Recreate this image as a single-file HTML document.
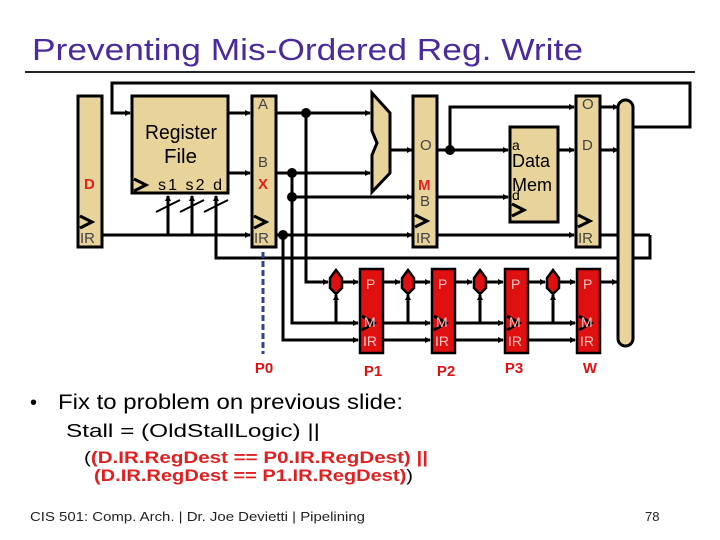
<!DOCTYPE html>
<html><head><style>
body{margin:0;background:#fff}
svg{display:block}
text{font-family:"Liberation Sans",sans-serif}
</style></head><body>
<svg width="720" height="540" viewBox="0 0 720 540" xmlns="http://www.w3.org/2000/svg">
<defs>
<marker id="ar" markerWidth="6" markerHeight="6" refX="5" refY="3" orient="auto" markerUnits="userSpaceOnUse"><path d="M0,0 L6,3 L0,6z" fill="#000"/></marker>
</defs>
<text x="32" y="60" font-size="31" fill="#4a2a9c" textLength="551" lengthAdjust="spacingAndGlyphs">Preventing Mis-Ordered Reg. Write</text>
<line x1="25" y1="72" x2="695" y2="72" stroke="#222" stroke-width="2"/>

<g stroke="#000" stroke-width="3" fill="none">
<polyline points="632,127 690,127 690,83 112,83 112,113 130,113" marker-end="url(#ar)"/>
<line x1="102" y1="235" x2="250" y2="235" marker-end="url(#ar)"/>
<line x1="168" y1="235" x2="168" y2="196" marker-end="url(#ar)"/>
<line x1="192" y1="235" x2="192" y2="196" marker-end="url(#ar)"/>
<polyline points="650,235 650,258 216,258 216,196" marker-end="url(#ar)"/>
<line x1="228" y1="113" x2="250" y2="113" marker-end="url(#ar)"/>
<line x1="228" y1="173" x2="250" y2="173" marker-end="url(#ar)"/>
<line x1="276" y1="113" x2="370" y2="113" marker-end="url(#ar)"/>
<line x1="276" y1="173" x2="370" y2="173" marker-end="url(#ar)"/>
<line x1="292" y1="197" x2="412" y2="197" marker-end="url(#ar)"/>
<line x1="276" y1="235" x2="412" y2="235" marker-end="url(#ar)"/>
<line x1="390" y1="150" x2="412" y2="150" marker-end="url(#ar)"/>
<line x1="437" y1="150" x2="508" y2="150" marker-end="url(#ar)"/>
<polyline points="450,150 450,107 574,107" marker-end="url(#ar)"/>
<line x1="437" y1="197" x2="508" y2="197" marker-end="url(#ar)"/>
<line x1="437" y1="235" x2="574" y2="235" marker-end="url(#ar)"/>
<line x1="558" y1="150" x2="574" y2="150" marker-end="url(#ar)"/>
<line x1="600" y1="107" x2="618" y2="107" marker-end="url(#ar)"/>
<line x1="600" y1="150" x2="618" y2="150" marker-end="url(#ar)"/>
<line x1="600" y1="235" x2="650" y2="235"/>
<polyline points="306,113 306,282 328,282" marker-end="url(#ar)"/>
<polyline points="292,173 292,323 358,323" marker-end="url(#ar)"/>
<polyline points="283,235 283,340 358,340" marker-end="url(#ar)"/>
<line x1="343" y1="282" x2="358" y2="282" marker-end="url(#ar)"/>
<line x1="383" y1="282" x2="400" y2="282" marker-end="url(#ar)"/>
<line x1="415" y1="282" x2="430" y2="282" marker-end="url(#ar)"/>
<line x1="455" y1="282" x2="472" y2="282" marker-end="url(#ar)"/>
<line x1="487" y1="282" x2="503" y2="282" marker-end="url(#ar)"/>
<line x1="528" y1="282" x2="545" y2="282" marker-end="url(#ar)"/>
<line x1="560" y1="282" x2="575" y2="282" marker-end="url(#ar)"/>
<line x1="600" y1="282" x2="617" y2="282" marker-end="url(#ar)"/>
<line x1="383" y1="323" x2="430" y2="323" marker-end="url(#ar)"/>
<line x1="455" y1="323" x2="503" y2="323" marker-end="url(#ar)"/>
<line x1="528" y1="323" x2="575" y2="323" marker-end="url(#ar)"/>
<line x1="383" y1="340" x2="430" y2="340" marker-end="url(#ar)"/>
<line x1="455" y1="340" x2="503" y2="340" marker-end="url(#ar)"/>
<line x1="528" y1="340" x2="575" y2="340" marker-end="url(#ar)"/>
<line x1="336" y1="323" x2="336" y2="295" marker-end="url(#ar)"/>
<line x1="408" y1="323" x2="408" y2="295" marker-end="url(#ar)"/>
<line x1="480" y1="323" x2="480" y2="295" marker-end="url(#ar)"/>
<line x1="553" y1="323" x2="553" y2="295" marker-end="url(#ar)"/>
</g>
<g stroke="#000" stroke-width="2">
<line x1="156" y1="212" x2="180" y2="200"/><line x1="180" y1="212" x2="204" y2="200"/><line x1="204" y1="212" x2="228" y2="200"/>
</g>
<g fill="#000">
<circle cx="306" cy="113" r="5"/><circle cx="292" cy="173" r="5"/><circle cx="292" cy="197" r="5"/><circle cx="283" cy="235" r="5"/><circle cx="450" cy="150" r="5"/>
</g>
<g fill="#e8d39a" stroke="#000" stroke-width="3">
<rect x="78" y="96" width="24" height="151"/>
<rect x="132" y="96" width="96" height="97"/>
<rect x="252" y="96" width="24" height="151"/>
<rect x="413" y="96" width="24" height="151"/>
<rect x="510" y="127" width="48" height="95"/>
<rect x="576" y="96" width="24" height="151"/>
<polygon points="372,93 390,113 390,173 372,192 372,155 377,143 372,131"/>
<rect x="618" y="100" width="15" height="246" rx="7.5"/>
</g>
<g fill="none" stroke="#000" stroke-width="3">
<polyline points="80,216 92,222 80,228"/><polyline points="254,216 266,222 254,228"/><polyline points="415,215 427,221 415,227"/><polyline points="578,215 590,221 578,227"/><polyline points="512,204 524,210 512,216"/><polyline points="134,179 146,185 134,191"/>
</g>
<g font-size="15" fill="#444">
<text x="258" y="109">A</text><text x="258" y="167">B</text><text x="254" y="243">IR</text>
<text x="80" y="243">IR</text>
<text x="420" y="150">O</text><text x="420" y="206">B</text><text x="416" y="243">IR</text>
<text x="582" y="109">O</text><text x="582" y="150">D</text><text x="578" y="243">IR</text>
</g>
<g font-size="15" fill="#e02020" font-weight="bold">
<text x="84" y="189">D</text><text x="258" y="189">X</text><text x="418" y="190">M</text>
</g>
<text x="145" y="139" font-size="20" textLength="72" lengthAdjust="spacingAndGlyphs">Register</text>
<text x="164" y="163" font-size="20" textLength="33" lengthAdjust="spacingAndGlyphs">File</text>
<text x="158" y="190" font-size="16" textLength="64" lengthAdjust="spacing">s1 s2  d</text>
<text x="512" y="150" font-size="14">a</text>
<text x="512" y="167" font-size="18">Data</text>
<text x="512" y="191" font-size="18">Mem</text>
<text x="512" y="200" font-size="14">d</text>

<line x1="263" y1="252" x2="263" y2="354" stroke="#33408a" stroke-width="3" stroke-dasharray="6,3"/>
<g fill="#e01010" stroke="#000" stroke-width="2.5">
<rect x="360" y="269" width="23" height="84"/><rect x="432" y="269" width="23" height="84"/><rect x="505" y="269" width="23" height="84"/><rect x="577" y="269" width="23" height="84"/>
<path d="M336,270 L342,278 L342,288 L336,294 L330,288 L330,278z"/><path d="M408,270 L414,278 L414,288 L408,294 L402,288 L402,278z"/><path d="M480,270 L486,278 L486,288 L480,294 L474,288 L474,278z"/><path d="M553,270 L559,278 L559,288 L553,294 L547,288 L547,278z"/>
</g>
<g fill="none" stroke="#000" stroke-width="3">
<polyline points="362,316 374,323 362,330"/><polyline points="434,316 446,323 434,330"/><polyline points="507,316 519,323 507,330"/><polyline points="579,316 591,323 579,330"/>
</g>
<g font-size="14" fill="#f4c4c4">
<text x="366" y="289">P</text><text x="438" y="289">P</text><text x="511" y="289">P</text><text x="583" y="289">P</text>
<text x="364" y="327">M</text><text x="436" y="327">M</text><text x="509" y="327">M</text><text x="581" y="327">M</text>
<text x="363" y="346">IR</text><text x="435" y="346">IR</text><text x="508" y="346">IR</text><text x="580" y="346">IR</text>
</g>
<g font-size="15" fill="#e01010" font-weight="bold" text-anchor="middle">
<text x="264" y="373">P0</text><text x="373" y="376">P1</text><text x="446" y="376">P2</text><text x="514" y="373">P3</text><text x="590" y="373">W</text>
</g>

<text x="30" y="409" font-size="20">•</text>
<text x="58" y="409" font-size="21" textLength="345" lengthAdjust="spacingAndGlyphs">Fix to problem on previous slide:</text>
<text x="66" y="437" font-size="18" textLength="254" lengthAdjust="spacingAndGlyphs">Stall = (OldStallLogic) ||</text>
<text x="84" y="463" font-size="17" font-weight="bold" fill="#e02020" textLength="344" lengthAdjust="spacingAndGlyphs"><tspan fill="#000" font-weight="normal">(</tspan>(D.IR.RegDest == P0.IR.RegDest) ||</text>
<text x="94" y="481" font-size="17" font-weight="bold" fill="#e02020" textLength="319" lengthAdjust="spacingAndGlyphs">(D.IR.RegDest == P1.IR.RegDest)<tspan fill="#000" font-weight="normal">)</tspan></text>
<text x="30" y="521" font-size="13" fill="#222" textLength="335" lengthAdjust="spacingAndGlyphs">CIS 501: Comp. Arch.  |  Dr. Joe Devietti  |  Pipelining</text>
<text x="645" y="521" font-size="13" fill="#222">78</text>
</svg>
</body></html>
